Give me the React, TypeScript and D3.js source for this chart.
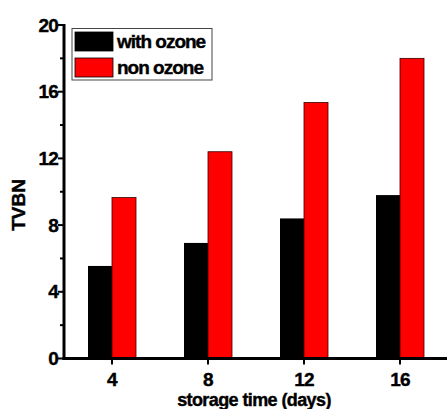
import { useEffect, useRef } from 'react'
import * as d3 from 'd3'

const days = [4, 8, 12, 16]
const withOzone = [5.55, 6.93, 8.4, 9.8]
const nonOzone = [9.65, 12.4, 15.35, 18.0]
const seriesNames = ['with ozone', 'non ozone']
const seriesColors = ['#000000', '#ff0000']
const yTicks = [0, 4, 8, 12, 16, 20]
const yMinor = [2, 6, 10, 14, 18]

const W = 447
const H = 409
const FONT = '"Liberation Sans", Arial, sans-serif'

export default function App() {
  const svgRef = useRef<SVGSVGElement | null>(null)

  useEffect(() => {
    const svgEl = svgRef.current
    if (!svgEl) return
    const svg = d3.select(svgEl)
    svg.selectAll('*').remove()

    const left = 64
    const x = d3.scaleLinear().domain([2, 18]).range([left, left + 16 * 24])
    const y = d3.scaleLinear().domain([0, 20]).range([358.5, 25])
    const bw = x(1) - x(0)

    const g = svg.append('g')

    // bars: black left of tick, red right of tick
    const rows = days.map((d, i) => ({ d, v: [withOzone[i], nonOzone[i]] }))
    rows.forEach((r) => {
      r.v.forEach((v, s) => {
        g.append('rect')
          .attr('x', s === 0 ? x(r.d) - bw : x(r.d))
          .attr('y', y(v))
          .attr('width', bw)
          .attr('height', y(0) - y(v))
          .attr('fill', seriesColors[s])
          .attr('stroke', s === 0 ? 'none' : '#3a0000')
          .attr('stroke-width', 0.8)
      })
    })

    // axes
    g.append('line')
      .attr('x1', left).attr('x2', left)
      .attr('y1', y(20) - 1).attr('y2', y(0) + 1.5)
      .attr('stroke', '#000').attr('stroke-width', 3)
    g.append('line')
      .attr('x1', left - 1.5).attr('x2', W)
      .attr('y1', y(0)).attr('y2', y(0))
      .attr('stroke', '#000').attr('stroke-width', 3)

    const label = (sel: d3.Selection<SVGTextElement, unknown, null, undefined>, size: number, ls: number) =>
      sel
        .attr('font-family', FONT)
        .attr('font-weight', 'bold')
        .attr('font-size', size)
        .attr('letter-spacing', ls)
        .attr('stroke', '#000')
        .attr('stroke-width', 0.4)

    yTicks.forEach((t) => {
      g.append('line')
        .attr('x1', left - 6).attr('x2', left)
        .attr('y1', y(t)).attr('y2', y(t))
        .attr('stroke', '#000').attr('stroke-width', 2)
      label(
        g.append('text')
          .attr('x', left - 6)
          .attr('y', y(t) + 6.5)
          .attr('text-anchor', 'end'),
        19,
        -0.8,
      ).text(t)
    })
    yMinor.forEach((t) => {
      g.append('line')
        .attr('x1', left - 4).attr('x2', left)
        .attr('y1', y(t)).attr('y2', y(t))
        .attr('stroke', '#000').attr('stroke-width', 2)
    })

    days.forEach((d) => {
      g.append('line')
        .attr('x1', x(d)).attr('x2', x(d))
        .attr('y1', y(0)).attr('y2', y(0) + 6)
        .attr('stroke', '#000').attr('stroke-width', 2)
      label(
        g.append('text')
          .attr('x', x(d))
          .attr('y', 386)
          .attr('text-anchor', 'middle'),
        19,
        -0.8,
      ).text(d)
    })

    label(
      g.append('text')
        .attr('x', 254)
        .attr('y', 406)
        .attr('text-anchor', 'middle'),
      18,
      -0.6,
    ).text('storage time (days)')

    label(
      g.append('text')
        .attr('transform', 'translate(25, 205) rotate(-90)')
        .attr('text-anchor', 'middle'),
      19,
      0,
    ).text('TVBN')

    // legend
    const lg = g.append('g')
    lg.append('rect')
      .attr('x', 72).attr('y', 28.5)
      .attr('width', 140).attr('height', 51.5)
      .attr('fill', '#fff').attr('stroke', '#444').attr('stroke-width', 1)
    seriesNames.forEach((name, i) => {
      const yy = 32 + i * 26
      lg.append('rect')
        .attr('x', 75).attr('y', yy)
        .attr('width', 38).attr('height', 19)
        .attr('fill', seriesColors[i])
        .attr('stroke', '#000').attr('stroke-width', 0.8)
      label(
        lg.append('text')
          .attr('x', 117)
          .attr('y', yy + 16),
        19,
        -1,
      ).text(name)
    })
  }, [])

  return (
    <svg
      ref={svgRef}
      width={W}
      height={H}
      style={{ position: 'absolute', left: 0, top: 0, background: '#fff' }}
    />
  )
}
